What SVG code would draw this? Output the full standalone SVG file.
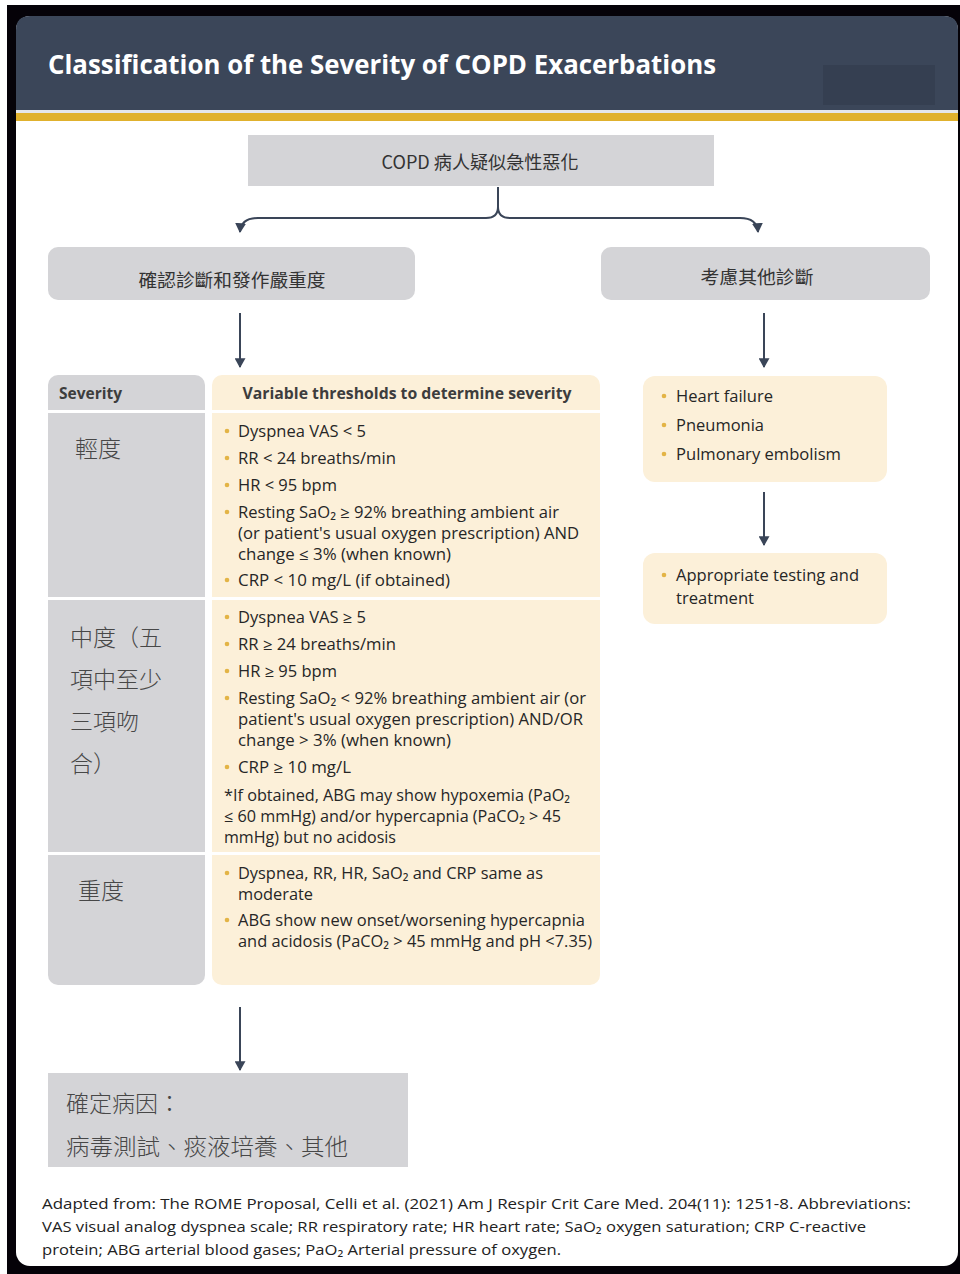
<svg xmlns="http://www.w3.org/2000/svg" width="960" height="1274" viewBox="0 0 960 1274">
<defs>
<style>
.t{font-family:"Open Sans","Noto Sans","Noto Sans CJK TC",sans-serif;font-size:15.5px;fill:#262626}
.hd{font-family:"Open Sans","Noto Sans",sans-serif;font-size:15.5px;font-weight:bold;fill:#3d3d3d}
.cj{font-family:"Noto Sans CJK TC","Noto Sans CJK SC",sans-serif;font-size:23px;fill:#474747;font-weight:300}
.cb{font-family:"Noto Sans CJK TC","Noto Sans CJK SC",sans-serif;font-size:18px;fill:#333}
.ft{font-family:"Open Sans","Noto Sans",sans-serif;font-size:15px;fill:#222}
.gray{fill:#d4d4d7}
.beige{fill:#fcf0d9}
.bul{fill:#e3b446}
.ar{stroke:#3a4558;stroke-width:2;fill:none}
</style>
<marker id="ad" viewBox="0 0 10 10" refX="8" refY="5" markerWidth="11" markerHeight="11" markerUnits="userSpaceOnUse" orient="auto">
<path d="M0,0 L9,5 L0,10 Z" fill="#3a4558"/>
</marker>
</defs>

<rect width="960" height="1274" fill="#ffffff"/>
<rect x="7" y="5" width="953" height="1269" fill="#050208"/>
<rect x="16" y="16" width="942" height="1250" rx="14" fill="#ffffff"/>

<g id="header">
<path d="M16,110 V30 Q16,16 30,16 H944 Q958,16 958,30 V110 Z" fill="#3b4659"/>
<rect x="823" y="65" width="112" height="40" fill="#353f51"/>
<rect x="16" y="110" width="942" height="3" fill="#e4e6ea"/>
<rect x="16" y="113" width="942" height="8" fill="#e0b12d"/>
<text x="48" y="74" font-family="Open Sans, Noto Sans, sans-serif" font-size="27" font-weight="bold" fill="#ffffff" textLength="668" lengthAdjust="spacingAndGlyphs">Classification of the Severity of COPD Exacerbations</text>
</g>

<g id="connectors">
<path class="ar" d="M498,187 V207 Q498,218 486,218 H258 Q241,218 240,232" marker-end="url(#ad)"/>
<path class="ar" d="M498,207 Q498,218 510,218 H740 Q757,218 758,232" marker-end="url(#ad)"/>
<line class="ar" x1="240" y1="313" x2="240" y2="367" marker-end="url(#ad)"/>
<line class="ar" x1="764" y1="313" x2="764" y2="367" marker-end="url(#ad)"/>
<line class="ar" x1="764" y1="492" x2="764" y2="545" marker-end="url(#ad)"/>
<line class="ar" x1="240" y1="1007" x2="240" y2="1070" marker-end="url(#ad)"/>
</g>

<g id="start">
<rect class="gray" x="248" y="135" width="466" height="51"/>
<text class="cb" x="480" y="169" text-anchor="middle" textLength="197" lengthAdjust="spacingAndGlyphs">COPD 病人疑似急性惡化</text>
</g>

<g id="confirm">
<rect class="gray" x="48" y="247" width="367" height="53" rx="10"/>
<text class="cb" x="232" y="287" text-anchor="middle" textLength="187" lengthAdjust="spacingAndGlyphs">確認診斷和發作嚴重度</text>
</g>

<g id="other">
<rect class="gray" x="601" y="247" width="329" height="53" rx="10"/>
<text class="cb" x="757" y="284" text-anchor="middle" textLength="113" lengthAdjust="spacingAndGlyphs">考慮其他診斷</text>
</g>

<g id="severity-table">
<rect class="gray" x="48" y="375" width="157" height="610" rx="10"/>
<rect class="beige" x="212" y="375" width="388" height="610" rx="10"/>
<rect x="48" y="410" width="552" height="3" fill="#ffffff"/>
<rect x="48" y="597" width="552" height="3" fill="#ffffff"/>
<rect x="48" y="852" width="552" height="3" fill="#ffffff"/>
<rect x="205" y="375" width="7" height="610" fill="#ffffff"/>
<text class="hd" x="59" y="399">Severity</text>
<text class="hd" x="407" y="399" text-anchor="middle" textLength="329" lengthAdjust="spacingAndGlyphs">Variable thresholds to determine severity</text>

<text class="cj" x="75" y="457">輕度</text>
<text class="cj" x="70" y="646">中度（五</text>
<text class="cj" x="70" y="688">項中至少</text>
<text class="cj" x="70" y="730">三項吻</text>
<text class="cj" x="70" y="772">合）</text>
<text class="cj" x="78" y="899">重度</text>

<g class="bul">
<circle cx="227" cy="431" r="2.3"/>
<circle cx="227" cy="458" r="2.3"/>
<circle cx="227" cy="485" r="2.3"/>
<circle cx="227" cy="512" r="2.3"/>
<circle cx="227" cy="580" r="2.3"/>
<circle cx="227" cy="617" r="2.3"/>
<circle cx="227" cy="644" r="2.3"/>
<circle cx="227" cy="671" r="2.3"/>
<circle cx="227" cy="698" r="2.3"/>
<circle cx="227" cy="767" r="2.3"/>
<circle cx="227" cy="873" r="2.3"/>
<circle cx="227" cy="920" r="2.3"/>
</g>

<text class="t" x="238" y="437" textLength="128" lengthAdjust="spacingAndGlyphs">Dyspnea VAS &lt; 5</text>
<text class="t" x="238" y="464" textLength="158" lengthAdjust="spacingAndGlyphs">RR &lt; 24 breaths/min</text>
<text class="t" x="238" y="491" textLength="99" lengthAdjust="spacingAndGlyphs">HR &lt; 95 bpm</text>
<text class="t" x="238" y="518" textLength="321" lengthAdjust="spacingAndGlyphs">Resting SaO₂ ≥ 92% breathing ambient air</text>
<text class="t" x="238" y="539" textLength="341" lengthAdjust="spacingAndGlyphs">(or patient's usual oxygen prescription) AND</text>
<text class="t" x="238" y="560" textLength="213" lengthAdjust="spacingAndGlyphs">change ≤ 3% (when known)</text>
<text class="t" x="238" y="586" textLength="212" lengthAdjust="spacingAndGlyphs">CRP &lt; 10 mg/L (if obtained)</text>

<text class="t" x="238" y="623" textLength="128" lengthAdjust="spacingAndGlyphs">Dyspnea VAS ≥ 5</text>
<text class="t" x="238" y="650" textLength="158" lengthAdjust="spacingAndGlyphs">RR ≥ 24 breaths/min</text>
<text class="t" x="238" y="677" textLength="99" lengthAdjust="spacingAndGlyphs">HR ≥ 95 bpm</text>
<text class="t" x="238" y="704" textLength="348" lengthAdjust="spacingAndGlyphs">Resting SaO₂ &lt; 92% breathing ambient air (or</text>
<text class="t" x="238" y="725" textLength="345" lengthAdjust="spacingAndGlyphs">patient's usual oxygen prescription) AND/OR</text>
<text class="t" x="238" y="746" textLength="213" lengthAdjust="spacingAndGlyphs">change &gt; 3% (when known)</text>
<text class="t" x="238" y="773" textLength="113" lengthAdjust="spacingAndGlyphs">CRP ≥ 10 mg/L</text>
<text class="t" x="224" y="801" textLength="346" lengthAdjust="spacingAndGlyphs">*If obtained, ABG may show hypoxemia (PaO₂</text>
<text class="t" x="224" y="822" textLength="337" lengthAdjust="spacingAndGlyphs">≤ 60 mmHg) and/or hypercapnia (PaCO₂ &gt; 45</text>
<text class="t" x="224" y="843" textLength="172" lengthAdjust="spacingAndGlyphs">mmHg) but no acidosis</text>

<text class="t" x="238" y="879" textLength="305" lengthAdjust="spacingAndGlyphs">Dyspnea, RR, HR, SaO₂ and CRP same as</text>
<text class="t" x="238" y="900" textLength="75" lengthAdjust="spacingAndGlyphs">moderate</text>
<text class="t" x="238" y="926" textLength="347" lengthAdjust="spacingAndGlyphs">ABG show new onset/worsening hypercapnia</text>
<text class="t" x="238" y="947" textLength="354" lengthAdjust="spacingAndGlyphs">and acidosis (PaCO₂ &gt; 45 mmHg and pH &lt;7.35)</text>
</g>

<g id="differentials">
<rect class="beige" x="643" y="376" width="244" height="106" rx="12"/>
<circle class="bul" cx="664" cy="396" r="2.3"/>
<circle class="bul" cx="664" cy="425" r="2.3"/>
<circle class="bul" cx="664" cy="454" r="2.3"/>
<text class="t" x="676" y="402" textLength="97" lengthAdjust="spacingAndGlyphs">Heart failure</text>
<text class="t" x="676" y="431" textLength="88" lengthAdjust="spacingAndGlyphs">Pneumonia</text>
<text class="t" x="676" y="460" textLength="165" lengthAdjust="spacingAndGlyphs">Pulmonary embolism</text>
</g>

<g id="testing">
<rect class="beige" x="643" y="553" width="244" height="71" rx="12"/>
<circle class="bul" cx="664" cy="575" r="2.3"/>
<text class="t" x="676" y="581" textLength="183" lengthAdjust="spacingAndGlyphs">Appropriate testing and</text>
<text class="t" x="676" y="604" textLength="78" lengthAdjust="spacingAndGlyphs">treatment</text>
</g>

<g id="cause">
<rect class="gray" x="48" y="1073" width="360" height="94"/>
<text class="cj" x="66" y="1112">確定病因：</text>
<text class="cj" x="66" y="1155" textLength="282" lengthAdjust="spacingAndGlyphs">病毒測試、痰液培養、其他</text>
</g>

<g id="footer">
<text class="ft" x="42" y="1209" textLength="869" lengthAdjust="spacingAndGlyphs">Adapted from: The ROME Proposal, Celli et al. (2021) Am J Respir Crit Care Med. 204(11): 1251-8. Abbreviations:</text>
<text class="ft" x="42" y="1232" textLength="824" lengthAdjust="spacingAndGlyphs">VAS visual analog dyspnea scale; RR respiratory rate; HR heart rate; SaO₂ oxygen saturation; CRP C-reactive</text>
<text class="ft" x="42" y="1255" textLength="519" lengthAdjust="spacingAndGlyphs">protein; ABG arterial blood gases; PaO₂ Arterial pressure of oxygen.</text>
</g>
</svg>
